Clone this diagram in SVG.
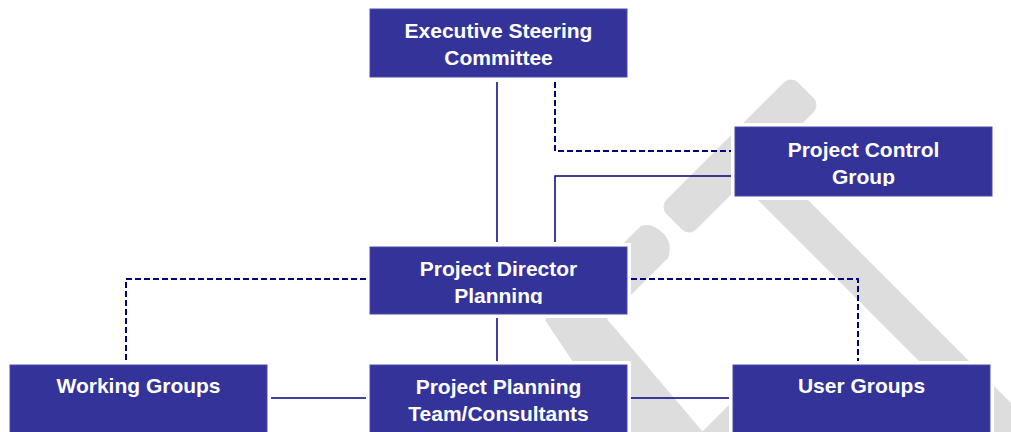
<svg xmlns="http://www.w3.org/2000/svg" width="1011" height="432" viewBox="0 0 1011 432">
  <style>
    .wm { fill: #dddddd; }
    .halo { fill: #ffffff; }
    .box { fill: #333399; stroke: #4b4bab; stroke-width: 1; }
    .lbl { font-family: "Liberation Sans", Arial, sans-serif; font-weight: bold; font-size: 21px; fill: #ffffff; text-anchor: middle; }
    .solid { fill: none; stroke: #000080; stroke-width: 1.5; }
    .dash { fill: none; stroke: #000080; stroke-width: 2; stroke-dasharray: 6 3; }
  </style>
  <defs>
    <clipPath id="clipPCG"><rect x="735" y="127" width="257" height="59"/></clipPath>
    <clipPath id="clipPD"><rect x="370" y="247" width="257" height="57"/></clipPath>
  </defs>
  <rect width="1011" height="432" fill="#ffffff"/>

  <g id="watermark">
    <rect class="wm" x="-93" y="-21" width="186" height="42" rx="10" transform="translate(740,156) rotate(-45)"/>
    <path class="wm" d="M641,226 Q652,222 664,234 Q673,244 668,258 L607,319 L703,432 L620,432 L545,320 Z"/>
    <path class="wm" d="M702,432 L760,374 L800,414 L782,432 Z"/>
    <path class="wm" d="M740,182 L790,182 L1100,492 L1050,492 Z"/>
  </g>

  <g id="connectors">
    <path class="solid" d="M497,82 V242"/>
    <path class="dash" d="M555,82 V151 H731"/>
    <path class="solid" d="M731,176 H555 V242"/>
    <path class="dash" d="M366,279 H126 V361"/>
    <path class="dash" d="M631,279 H858 V361"/>
    <path class="solid" d="M497,318 V361"/>
    <path class="solid" d="M271,398 H366"/>
    <path class="solid" d="M631,398 H729"/>
  </g>

  <g id="node-esc">
    <rect class="halo" x="366" y="5" width="265" height="76"/>
    <rect class="box" x="370" y="9" width="257" height="68"/>
    <text class="lbl" x="498.5" y="38">Executive Steering</text>
    <text class="lbl" x="498.5" y="65">Committee</text>
  </g>

  <g id="node-pcg">
    <rect class="halo" x="731" y="123" width="265" height="77"/>
    <rect class="box" x="735" y="127" width="257" height="69"/>
    <g clip-path="url(#clipPCG)">
      <text class="lbl" x="863.5" y="157">Project Control</text>
      <text class="lbl" x="863.5" y="184">Group</text>
    </g>
  </g>

  <g id="node-pd">
    <rect class="halo" x="366" y="243" width="265" height="75"/>
    <rect class="box" x="370" y="247" width="257" height="67"/>
    <g clip-path="url(#clipPD)">
      <text class="lbl" x="498.5" y="276">Project Director</text>
      <text class="lbl" x="498.5" y="303">Planning</text>
    </g>
  </g>

  <g id="node-wg">
    <rect class="halo" x="6" y="361" width="265" height="80"/>
    <rect class="box" x="10" y="365" width="257" height="72"/>
    <text class="lbl" x="138.5" y="393">Working Groups</text>
  </g>

  <g id="node-ppt">
    <rect class="halo" x="366" y="361" width="265" height="80"/>
    <rect class="box" x="370" y="365" width="257" height="72"/>
    <text class="lbl" x="498.5" y="394">Project Planning</text>
    <text class="lbl" x="498.5" y="421">Team/Consultants</text>
  </g>

  <g id="node-ug">
    <rect class="halo" x="729" y="361" width="265" height="80"/>
    <rect class="box" x="733" y="365" width="257" height="72"/>
    <text class="lbl" x="861.5" y="393">User Groups</text>
  </g>
</svg>
